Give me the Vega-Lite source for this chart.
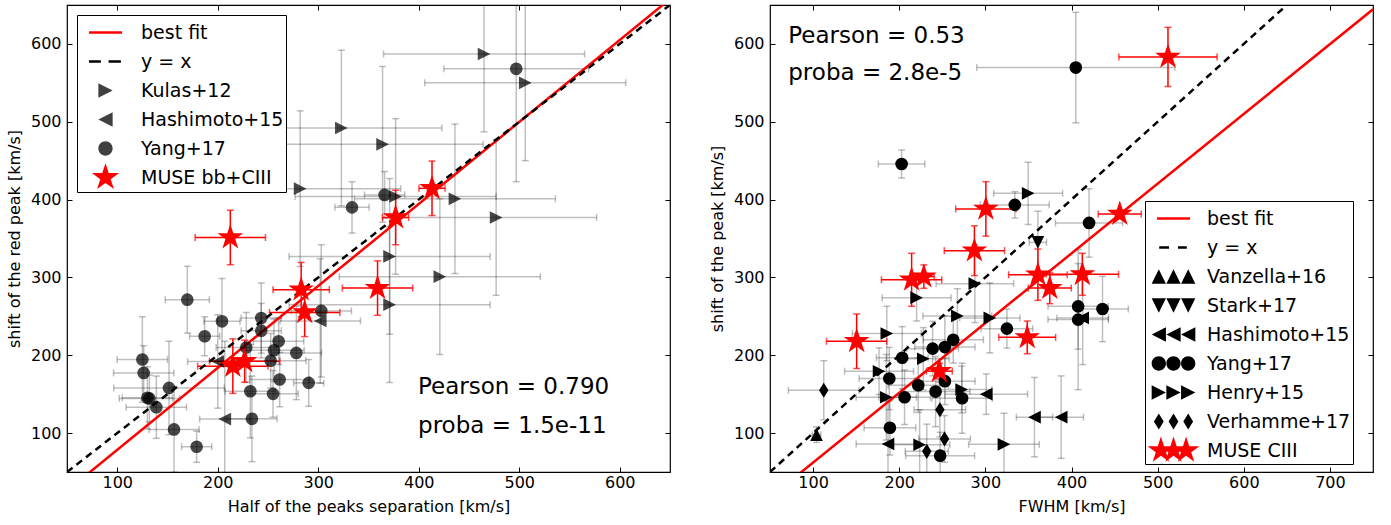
{
  "$schema": "https://vega.github.io/schema/vega-lite/v6.json",
  "background": "white",
  "padding": {"left": 5, "top": 3, "right": 5, "bottom": 5},
  "spacing": 36,
  "resolve": {"scale": {"shape": "independent", "color": "independent", "stroke": "independent"}, "legend": {"shape": "independent", "color": "independent", "stroke": "independent"}},
  "config": {
    "font": "DejaVu Sans",
    "view": {"stroke": "black", "strokeWidth": 1.2},
    "axis": {"domain": false, "grid": false, "ticks": true, "tickSize": -5, "tickColor": "black", "tickWidth": 1,
      "labelFont": "DejaVu Sans", "labelFontSize": 16, "labelColor": "black",
      "titleFont": "DejaVu Sans", "titleFontSize": 16, "titleFontWeight": "normal", "titleColor": "black"},
    "axisX": {"labelPadding": 7, "titlePadding": 8},
    "axisY": {"labelPadding": 11, "titlePadding": 8},
    "legend": {"labelFont": "DejaVu Sans", "labelFontSize": 19, "labelColor": "black", "symbolSize": 784,
      "symbolOffset": 11, "padding": 2, "labelOffset": 20, "rowPadding": -1.5, "strokeColor": "black",
      "fillColor": "white", "strokeWidth": 1, "cornerRadius": 0, "orient": "none", "symbolStrokeWidth": 2.5, "symbolOpacity": 1}
  },
  "datasets": {
    "left": [
      {"s": "Kulas+12", "x": 465, "y": 587, "xe": 100, "ye": 100},
      {"s": "Kulas+12", "x": 506, "y": 550, "xe": 100, "ye": 100},
      {"s": "Kulas+12", "x": 323, "y": 492, "xe": 100, "ye": 100},
      {"s": "Kulas+12", "x": 364, "y": 471, "xe": 100, "ye": 100},
      {"s": "Kulas+12", "x": 282, "y": 414, "xe": 100, "ye": 100},
      {"s": "Kulas+12", "x": 377, "y": 404, "xe": 100, "ye": 100},
      {"s": "Kulas+12", "x": 436, "y": 401, "xe": 100, "ye": 96},
      {"s": "Kulas+12", "x": 477, "y": 377, "xe": 100, "ye": 100},
      {"s": "Kulas+12", "x": 371, "y": 327, "xe": 100, "ye": 100},
      {"s": "Kulas+12", "x": 421, "y": 301, "xe": 100, "ye": 100},
      {"s": "Kulas+12", "x": 371, "y": 265, "xe": 100, "ye": 100},
      {"s": "Hashimoto+15", "x": 207, "y": 118, "xe": 25, "ye": 100},
      {"s": "Hashimoto+15", "x": 200, "y": 192, "xe": 30, "ye": 60},
      {"s": "Hashimoto+15", "x": 302, "y": 244, "xe": 40, "ye": 80},
      {"s": "Yang+17", "x": 169.7, "y": 271.4, "xe": 22, "ye": 43},
      {"s": "Yang+17", "x": 204.2, "y": 243.6, "xe": 18, "ye": 55},
      {"s": "Yang+17", "x": 187, "y": 224.4, "xe": 15, "ye": 25},
      {"s": "Yang+17", "x": 243.3, "y": 247.8, "xe": 20, "ye": 45},
      {"s": "Yang+17", "x": 243.3, "y": 231.6, "xe": 20, "ye": 35},
      {"s": "Yang+17", "x": 228.4, "y": 210, "xe": 30, "ye": 45},
      {"s": "Yang+17", "x": 260.6, "y": 218, "xe": 25, "ye": 30},
      {"s": "Yang+17", "x": 256, "y": 206.4, "xe": 30, "ye": 40},
      {"s": "Yang+17", "x": 252.7, "y": 193, "xe": 35, "ye": 35},
      {"s": "Yang+17", "x": 278.2, "y": 203, "xe": 25, "ye": 60},
      {"s": "Yang+17", "x": 261.6, "y": 168.8, "xe": 30, "ye": 35},
      {"s": "Yang+17", "x": 290.5, "y": 164.5, "xe": 15, "ye": 30},
      {"s": "Yang+17", "x": 232.4, "y": 153.8, "xe": 25, "ye": 60},
      {"s": "Yang+17", "x": 255, "y": 150.4, "xe": 25, "ye": 30},
      {"s": "Yang+17", "x": 234, "y": 118.3, "xe": 25, "ye": 55},
      {"s": "Yang+17", "x": 125, "y": 194.5, "xe": 25, "ye": 55},
      {"s": "Yang+17", "x": 126.3, "y": 177.3, "xe": 30, "ye": 35},
      {"s": "Yang+17", "x": 151.5, "y": 158, "xe": 55, "ye": 60},
      {"s": "Yang+17", "x": 130, "y": 145.3, "xe": 25, "ye": 40},
      {"s": "Yang+17", "x": 132, "y": 144.5, "xe": 30, "ye": 30},
      {"s": "Yang+17", "x": 138.9, "y": 133.3, "xe": 30, "ye": 40},
      {"s": "Yang+17", "x": 156.5, "y": 104.7, "xe": 25, "ye": 55},
      {"s": "Yang+17", "x": 179, "y": 82.5, "xe": 15, "ye": 20},
      {"s": "Yang+17", "x": 303, "y": 257, "xe": 30, "ye": 85},
      {"s": "Yang+17", "x": 333.6, "y": 390, "xe": 17, "ye": 33},
      {"s": "Yang+17", "x": 366, "y": 406, "xe": 20, "ye": 30},
      {"s": "Yang+17", "x": 497, "y": 568, "xe": 72, "ye": 145},
      {"s": "MUSE bb+CIII", "x": 212.5, "y": 351.3, "xe": 35, "ye": 35},
      {"s": "MUSE bb+CIII", "x": 283, "y": 284.3, "xe": 28, "ye": 35},
      {"s": "MUSE bb+CIII", "x": 286.5, "y": 255, "xe": 35, "ye": 31},
      {"s": "MUSE bb+CIII", "x": 359, "y": 286.3, "xe": 35, "ye": 35},
      {"s": "MUSE bb+CIII", "x": 377, "y": 377, "xe": 13, "ye": 35},
      {"s": "MUSE bb+CIII", "x": 413.2, "y": 414.5, "xe": 13, "ye": 35},
      {"s": "MUSE bb+CIII", "x": 215, "y": 186, "xe": 35, "ye": 35},
      {"s": "MUSE bb+CIII", "x": 226.8, "y": 192.3, "xe": 35, "ye": 27}
    ],
    "leftLines": [
      {"k": "fit", "x": 50, "y": 25.85},
      {"k": "fit", "x": 650, "y": 657.65},
      {"k": "yx", "x": 50, "y": 50},
      {"k": "yx", "x": 650, "y": 650}
    ],
    "leftText": [
      {"x": 399.3, "y": 150, "t": "Pearson = 0.790"},
      {"x": 399.3, "y": 100, "t": "proba = 1.5e-11"}
    ],
    "right": [
      {"s": "Vanzella+16", "x": 104, "y": 98, "xe": 5, "ye": 10},
      {"s": "Stark+17", "x": 361, "y": 345, "xe": 10, "ye": 40},
      {"s": "Hashimoto+15", "x": 413, "y": 248, "xe": 30, "ye": 60},
      {"s": "Hashimoto+15", "x": 301, "y": 150, "xe": 48, "ye": 26},
      {"s": "Hashimoto+15", "x": 357, "y": 120.5, "xe": 21, "ye": 51},
      {"s": "Hashimoto+15", "x": 388, "y": 120.5, "xe": 26, "ye": 53},
      {"s": "Hashimoto+15", "x": 187, "y": 86, "xe": 37, "ye": 55},
      {"s": "Yang+17", "x": 405, "y": 569.6, "xe": 115, "ye": 71},
      {"s": "Yang+17", "x": 202.8, "y": 445.7, "xe": 27, "ye": 18},
      {"s": "Yang+17", "x": 334.2, "y": 393.2, "xe": 40, "ye": 17},
      {"s": "Yang+17", "x": 420.4, "y": 370, "xe": 39, "ye": 44},
      {"s": "Yang+17", "x": 407.7, "y": 262.8, "xe": 35, "ye": 55},
      {"s": "Yang+17", "x": 436, "y": 259.4, "xe": 30, "ye": 42},
      {"s": "Yang+17", "x": 407.7, "y": 245.8, "xe": 35, "ye": 90},
      {"s": "Yang+17", "x": 325, "y": 234.2, "xe": 30, "ye": 25},
      {"s": "Yang+17", "x": 262.7, "y": 219.9, "xe": 35, "ye": 30},
      {"s": "Yang+17", "x": 253, "y": 210.5, "xe": 35, "ye": 40},
      {"s": "Yang+17", "x": 238.8, "y": 208.5, "xe": 30, "ye": 35},
      {"s": "Yang+17", "x": 203.5, "y": 196.8, "xe": 30, "ye": 40},
      {"s": "Yang+17", "x": 188.5, "y": 170.1, "xe": 35, "ye": 40},
      {"s": "Yang+17", "x": 222.1, "y": 161.5, "xe": 35, "ye": 35},
      {"s": "Yang+17", "x": 242.2, "y": 153.3, "xe": 40, "ye": 45},
      {"s": "Yang+17", "x": 253, "y": 166.7, "xe": 35, "ye": 30},
      {"s": "Yang+17", "x": 206.2, "y": 146, "xe": 30, "ye": 35},
      {"s": "Yang+17", "x": 273, "y": 144.8, "xe": 35, "ye": 45},
      {"s": "Yang+17", "x": 189.2, "y": 106.8, "xe": 30, "ye": 35},
      {"s": "Yang+17", "x": 247.5, "y": 71, "xe": 40, "ye": 30},
      {"s": "Henry+15", "x": 349.7, "y": 408, "xe": 40, "ye": 40},
      {"s": "Henry+15", "x": 287.8, "y": 292, "xe": 45, "ye": 50},
      {"s": "Henry+15", "x": 220.2, "y": 274, "xe": 40, "ye": 30},
      {"s": "Henry+15", "x": 267.5, "y": 250.5, "xe": 40, "ye": 35},
      {"s": "Henry+15", "x": 305.2, "y": 248, "xe": 35, "ye": 45},
      {"s": "Henry+15", "x": 185.6, "y": 228, "xe": 40, "ye": 35},
      {"s": "Henry+15", "x": 228, "y": 195.5, "xe": 30, "ye": 40},
      {"s": "Henry+15", "x": 176.6, "y": 179.5, "xe": 40, "ye": 30},
      {"s": "Henry+15", "x": 185, "y": 146, "xe": 35, "ye": 55},
      {"s": "Henry+15", "x": 272.5, "y": 156, "xe": 35, "ye": 30},
      {"s": "Henry+15", "x": 223.7, "y": 85, "xe": 35, "ye": 45},
      {"s": "Henry+15", "x": 321.6, "y": 85.5, "xe": 41, "ye": 40},
      {"s": "Verhamme+17", "x": 112.4, "y": 155, "xe": 41, "ye": 38},
      {"s": "Verhamme+17", "x": 247.2, "y": 130, "xe": 30, "ye": 35},
      {"s": "Verhamme+17", "x": 252.6, "y": 92.5, "xe": 30, "ye": 30},
      {"s": "Verhamme+17", "x": 232, "y": 76.5, "xe": 25, "ye": 35},
      {"s": "MUSE CIII", "x": 512, "y": 583.3, "xe": 57, "ye": 38},
      {"s": "MUSE CIII", "x": 300.6, "y": 388, "xe": 35, "ye": 35},
      {"s": "MUSE CIII", "x": 456, "y": 381.5, "xe": 25, "ye": 5},
      {"s": "MUSE CIII", "x": 287.3, "y": 334.4, "xe": 35, "ye": 32},
      {"s": "MUSE CIII", "x": 214.4, "y": 297, "xe": 35, "ye": 34},
      {"s": "MUSE CIII", "x": 228.6, "y": 301, "xe": 12, "ye": 15},
      {"s": "MUSE CIII", "x": 361, "y": 303.5, "xe": 34, "ye": 33},
      {"s": "MUSE CIII", "x": 374.8, "y": 286.3, "xe": 25, "ye": 20},
      {"s": "MUSE CIII", "x": 412.6, "y": 304, "xe": 42, "ye": 27},
      {"s": "MUSE CIII", "x": 150.6, "y": 218, "xe": 35, "ye": 35},
      {"s": "MUSE CIII", "x": 348.6, "y": 223, "xe": 33, "ye": 21},
      {"s": "MUSE CIII", "x": 246.6, "y": 179.5, "xe": 15, "ye": 10}
    ],
    "rightLines": [
      {"k": "fit", "x": 50, "y": 17.3},
      {"k": "fit", "x": 750, "y": 644.5},
      {"k": "yx", "x": 50, "y": 50},
      {"k": "yx", "x": 750, "y": 750}
    ],
    "rightText": [
      {"x": 71.2, "y": 601.7, "t": "Pearson = 0.53"},
      {"x": 71.2, "y": 553.5, "t": "proba = 2.8e-5"}
    ]
  },
  "hconcat": [
    {
      "width": 603, "height": 467,
      "resolve": {"axis": {"x": "independent", "y": "independent"}, "scale": {"shape": "independent", "color": "independent", "stroke": "independent"}, "legend": {"shape": "independent", "color": "independent", "stroke": "independent"}},
      "layer": [
        {"data": {"name": "left"}, "transform": [{"filter": "datum.s !== 'MUSE bb+CIII'"}],
          "mark": {"type": "errorbar", "ticks": {"size": 7}, "thickness": 1.5, "color": "#000000", "opacity": 0.25, "clip": true},
          "encoding": {"x": {"field": "x", "type": "quantitative", "axis": null}, "xError": {"field": "xe"}, "y": {"field": "y", "type": "quantitative", "axis": null}}},
        {"data": {"name": "left"}, "transform": [{"filter": "datum.s !== 'MUSE bb+CIII'"}],
          "mark": {"type": "errorbar", "ticks": {"size": 7}, "thickness": 1.5, "color": "#000000", "opacity": 0.25, "clip": true},
          "encoding": {"x": {"field": "x", "type": "quantitative", "axis": null}, "y": {"field": "y", "type": "quantitative", "axis": null}, "yError": {"field": "ye"}}},
        {"data": {"name": "left"}, "transform": [{"filter": "datum.s === 'MUSE bb+CIII'"}],
          "mark": {"type": "errorbar", "ticks": {"size": 7}, "thickness": 1.5, "color": "#ff0000", "clip": true},
          "encoding": {"x": {"field": "x", "type": "quantitative", "axis": null}, "xError": {"field": "xe"}, "y": {"field": "y", "type": "quantitative", "axis": null}}},
        {"data": {"name": "left"}, "transform": [{"filter": "datum.s === 'MUSE bb+CIII'"}],
          "mark": {"type": "errorbar", "ticks": {"size": 7}, "thickness": 1.5, "color": "#ff0000", "clip": true},
          "encoding": {"x": {"field": "x", "type": "quantitative", "axis": null}, "y": {"field": "y", "type": "quantitative", "axis": null}, "yError": {"field": "ye"}}},
        {"data": {"name": "leftLines"}, "transform": [{"filter": "datum.k === 'fit'"}],
          "mark": {"type": "line", "color": "#ff0000", "strokeWidth": 2.5, "clip": true},
          "encoding": {"x": {"field": "x", "type": "quantitative", "axis": null}, "y": {"field": "y", "type": "quantitative", "axis": null}}},
        {"data": {"name": "leftLines"}, "transform": [{"filter": "datum.k === 'yx'"}],
          "mark": {"type": "line", "color": "#000000", "strokeWidth": 2.5, "strokeDash": [7, 5], "clip": true},
          "encoding": {
            "x": {"field": "x", "type": "quantitative", "axis": {"orient": "top", "labels": false, "title": null, "values": [100, 200, 300, 400, 500, 600]}},
            "y": {"field": "y", "type": "quantitative", "axis": {"orient": "right", "labels": false, "title": null, "values": [100, 200, 300, 400, 500, 600]}}}},
        {"data": {"name": "left"},
          "mark": {"type": "point", "filled": true},
          "encoding": {
            "x": {"field": "x", "type": "quantitative", "scale": {"domain": [50, 650], "nice": false, "zero": false},
              "axis": {"values": [100, 200, 300, 400, 500, 600], "title": "Half of the peaks separation [km/s]"}},
            "y": {"field": "y", "type": "quantitative", "scale": {"domain": [50, 650], "nice": false, "zero": false},
              "axis": {"values": [100, 200, 300, 400, 500, 600], "title": "shift of the red peak [km/s]"}},
            "shape": {"field": "s", "type": "nominal", "legend": null,
              "scale": {"domain": ["Kulas+12", "Hashimoto+15", "Yang+17", "MUSE bb+CIII"],
                "range": ["M-1,-1L1,0L-1,1Z", "M1,-1L-1,0L1,1Z", "circle", "M0,-1L0.2245,-0.309L0.951,-0.309L0.363,0.118L0.588,0.809L0,0.382L-0.588,0.809L-0.363,0.118L-0.951,-0.309L-0.2245,-0.309Z"]}},
            "color": {"condition": {"test": "datum.s === 'MUSE bb+CIII'", "value": "#ff0000"}, "value": "#000000"},
            "opacity": {"condition": {"test": "datum.s === 'MUSE bb+CIII'", "value": 1}, "value": 0.72},
            "size": {"condition": {"test": "datum.s === 'MUSE bb+CIII'", "value": 730}, "value": 160}}},
        {"data": {"name": "left"}, "transform": [{"filter": "false"}],
          "mark": {"type": "point", "filled": true, "size": 784, "strokeWidth": 2.5},
          "encoding": {
            "x": {"field": "x", "type": "quantitative", "axis": null},
            "y": {"field": "y", "type": "quantitative", "axis": null},
            "shape": {"field": "s", "type": "nominal",
              "scale": {"domain": ["best fit", "y = x", "Kulas+12", "Hashimoto+15", "Yang+17", "MUSE bb+CIII"],
                "range": ["M-1.18,0L1.18,0M0,-0.54L0,-0.54M0,0.54L0,0.54", "M-1.18,0L-0.33,0M0.22,0L1.1,0M0,-0.54L0,-0.54M0,0.54L0,0.54", "M-0.51,-0.51L0.51,0L-0.51,0.51ZM0,-0.9L0,-0.9M0,0.9L0,0.9", "M0.51,-0.51L-0.51,0L0.51,0.51ZM0,-0.9L0,-0.9M0,0.9L0,0.9", "M-0.51,0A0.51,0.51,0,1,0,0.51,0A0.51,0.51,0,1,0,-0.51,0ZM0,-0.9L0,-0.9M0,0.9L0,0.9", "M0,-1.02L0.229,-0.315L0.97,-0.315L0.37,0.12L0.6,0.825L0,0.39L-0.6,0.825L-0.37,0.12L-0.97,-0.315L-0.229,-0.315Z"]},
              "legend": {"title": null, "legendX": 10, "legendY": 10, "labelExpr": "datum.label + '\u00a0\u00a0'"}},
            "color": {"field": "s", "type": "nominal", "legend": {"title": null, "legendX": 10, "legendY": 10, "labelExpr": "datum.label + '\u00a0\u00a0'"},
              "scale": {"domain": ["best fit", "y = x", "Kulas+12", "Hashimoto+15", "Yang+17", "MUSE bb+CIII"],
                "range": ["transparent", "transparent", "#404040", "#404040", "#404040", "#ff0000"]}},
            "stroke": {"field": "s", "type": "nominal", "legend": {"title": null, "legendX": 10, "legendY": 10, "labelExpr": "datum.label + '\u00a0\u00a0'"},
              "scale": {"domain": ["best fit", "y = x", "Kulas+12", "Hashimoto+15", "Yang+17", "MUSE bb+CIII"],
                "range": ["#ff0000", "#000000", null, null, null, null]}}}},
        {"data": {"name": "leftText"},
          "mark": {"type": "text", "align": "left", "baseline": "alphabetic", "fontSize": 23, "font": "DejaVu Sans", "color": "black"},
          "encoding": {"x": {"field": "x", "type": "quantitative", "axis": null}, "y": {"field": "y", "type": "quantitative", "axis": null}, "text": {"field": "t"}}}
      ]
    },
    {
      "width": 603, "height": 467,
      "resolve": {"axis": {"x": "independent", "y": "independent"}, "scale": {"shape": "independent", "color": "independent", "stroke": "independent"}, "legend": {"shape": "independent", "color": "independent", "stroke": "independent"}},
      "layer": [
        {"data": {"name": "right"}, "transform": [{"filter": "datum.s !== 'MUSE CIII'"}],
          "mark": {"type": "errorbar", "ticks": {"size": 7}, "thickness": 1.5, "color": "#000000", "opacity": 0.25, "clip": true},
          "encoding": {"x": {"field": "x", "type": "quantitative", "axis": null}, "xError": {"field": "xe"}, "y": {"field": "y", "type": "quantitative", "axis": null}}},
        {"data": {"name": "right"}, "transform": [{"filter": "datum.s !== 'MUSE CIII'"}],
          "mark": {"type": "errorbar", "ticks": {"size": 7}, "thickness": 1.5, "color": "#000000", "opacity": 0.25, "clip": true},
          "encoding": {"x": {"field": "x", "type": "quantitative", "axis": null}, "y": {"field": "y", "type": "quantitative", "axis": null}, "yError": {"field": "ye"}}},
        {"data": {"name": "right"}, "transform": [{"filter": "datum.s === 'MUSE CIII'"}],
          "mark": {"type": "errorbar", "ticks": {"size": 7}, "thickness": 1.5, "color": "#ff0000", "clip": true},
          "encoding": {"x": {"field": "x", "type": "quantitative", "axis": null}, "xError": {"field": "xe"}, "y": {"field": "y", "type": "quantitative", "axis": null}}},
        {"data": {"name": "right"}, "transform": [{"filter": "datum.s === 'MUSE CIII'"}],
          "mark": {"type": "errorbar", "ticks": {"size": 7}, "thickness": 1.5, "color": "#ff0000", "clip": true},
          "encoding": {"x": {"field": "x", "type": "quantitative", "axis": null}, "y": {"field": "y", "type": "quantitative", "axis": null}, "yError": {"field": "ye"}}},
        {"data": {"name": "rightLines"}, "transform": [{"filter": "datum.k === 'fit'"}],
          "mark": {"type": "line", "color": "#ff0000", "strokeWidth": 2.5, "clip": true},
          "encoding": {"x": {"field": "x", "type": "quantitative", "axis": null}, "y": {"field": "y", "type": "quantitative", "axis": null}}},
        {"data": {"name": "rightLines"}, "transform": [{"filter": "datum.k === 'yx'"}],
          "mark": {"type": "line", "color": "#000000", "strokeWidth": 2.5, "strokeDash": [7, 5], "clip": true},
          "encoding": {
            "x": {"field": "x", "type": "quantitative", "axis": {"orient": "top", "labels": false, "title": null, "values": [100, 200, 300, 400, 500, 600, 700]}},
            "y": {"field": "y", "type": "quantitative", "axis": {"orient": "right", "labels": false, "title": null, "values": [100, 200, 300, 400, 500, 600]}}}},
        {"data": {"name": "right"},
          "mark": {"type": "point", "filled": true, "opacity": 1},
          "encoding": {
            "x": {"field": "x", "type": "quantitative", "scale": {"domain": [50, 750], "nice": false, "zero": false},
              "axis": {"values": [100, 200, 300, 400, 500, 600, 700], "title": "FWHM [km/s]"}},
            "y": {"field": "y", "type": "quantitative", "scale": {"domain": [50, 650], "nice": false, "zero": false},
              "axis": {"values": [100, 200, 300, 400, 500, 600], "title": "shift of the peak [km/s]"}},
            "shape": {"field": "s", "type": "nominal", "legend": null,
              "scale": {"domain": ["Vanzella+16", "Stark+17", "Hashimoto+15", "Yang+17", "Henry+15", "Verhamme+17", "MUSE CIII"],
                "range": ["M0,-1L1,1L-1,1Z", "M-1,-1L1,-1L0,1Z", "M1,-1L-1,0L1,1Z", "circle", "M-1,-1L1,0L-1,1Z", "M0,-1.2L0.75,0L0,1.2L-0.75,0Z", "M0,-1L0.2245,-0.309L0.951,-0.309L0.363,0.118L0.588,0.809L0,0.382L-0.588,0.809L-0.363,0.118L-0.951,-0.309L-0.2245,-0.309Z"]}},
            "color": {"condition": {"test": "datum.s === 'MUSE CIII'", "value": "#ff0000"}, "value": "#000000"},
            "size": {"condition": {"test": "datum.s === 'MUSE CIII'", "value": 730}, "value": 160}}},
        {"data": {"name": "right"}, "transform": [{"filter": "false"}],
          "mark": {"type": "point", "filled": true, "size": 784, "strokeWidth": 2.5},
          "encoding": {
            "x": {"field": "x", "type": "quantitative", "axis": null},
            "y": {"field": "y", "type": "quantitative", "axis": null},
            "shape": {"field": "s", "type": "nominal",
              "scale": {"domain": ["best fit", "y = x", "Vanzella+16", "Stark+17", "Hashimoto+15", "Yang+17", "Henry+15", "Verhamme+17", "MUSE CIII"],
                "range": [
                  "M-1.18,0L1.18,0M0,-0.54L0,-0.54M0,0.54L0,0.54",
                  "M-1.02,0L-0.32,0M0.32,0L0.95,0M0,-0.54L0,-0.54M0,0.54L0,0.54",
                  "M-1.05,-0.51L-0.54,0.51L-1.56,0.51ZM0,-0.51L0.51,0.51L-0.51,0.51ZM1.05,-0.51L1.56,0.51L0.54,0.51ZM0,-0.9L0,-0.9M0,0.9L0,0.9",
                  "M-1.56,-0.51L-0.54,-0.51L-1.05,0.51ZM-0.51,-0.51L0.51,-0.51L0,0.51ZM0.54,-0.51L1.56,-0.51L1.05,0.51ZM0,-0.9L0,-0.9M0,0.9L0,0.9",
                  "M-0.54,-0.51L-0.54,0.51L-1.56,0ZM0.51,-0.51L0.51,0.51L-0.51,0ZM1.56,-0.51L1.56,0.51L0.54,0ZM0,-0.9L0,-0.9M0,0.9L0,0.9",
                  "M-1.56,0A0.51,0.51,0,1,0,-0.54,0A0.51,0.51,0,1,0,-1.56,0ZM-0.51,0A0.51,0.51,0,1,0,0.51,0A0.51,0.51,0,1,0,-0.51,0ZM0.54,0A0.51,0.51,0,1,0,1.56,0A0.51,0.51,0,1,0,0.54,0ZM0,-0.9L0,-0.9M0,0.9L0,0.9",
                  "M-1.56,-0.51L-1.56,0.51L-0.54,0ZM-0.51,-0.51L-0.51,0.51L0.51,0ZM0.54,-0.51L0.54,0.51L1.56,0ZM0,-0.9L0,-0.9M0,0.9L0,0.9",
                  "M-1.05,-0.58L-0.7,0L-1.05,0.58L-1.4,0ZM0,-0.58L0.35,0L0,0.58L-0.35,0ZM1.05,-0.58L1.4,0L1.05,0.58L0.7,0ZM0,-0.9L0,-0.9M0,0.9L0,0.9",
                  "M-0.9,-1L-0.6755,-0.309L0.051,-0.309L-0.537,0.118L-0.312,0.809L-0.9,0.382L-1.488,0.809L-1.263,0.118L-1.851,-0.309L-1.1245,-0.309ZM0,-1L0.2245,-0.309L0.951,-0.309L0.363,0.118L0.588,0.809L0,0.382L-0.588,0.809L-0.363,0.118L-0.951,-0.309L-0.2245,-0.309ZM0.9,-1L1.1245,-0.309L1.851,-0.309L1.263,0.118L1.488,0.809L0.9,0.382L0.312,0.809L0.537,0.118L-0.051,-0.309L0.6755,-0.309Z"]},
              "legend": {"title": null, "legendX": 375, "legendY": 196, "labelOffset": 18, "rowPadding": -1, "labelExpr": "datum.label + '\u00a0\u00a0\u2009\u2009'"}},
            "color": {"field": "s", "type": "nominal", "legend": {"title": null, "legendX": 375, "legendY": 196, "labelOffset": 18, "rowPadding": -1, "labelExpr": "datum.label + '\u00a0\u00a0\u2009\u2009'"},
              "scale": {"domain": ["best fit", "y = x", "Vanzella+16", "Stark+17", "Hashimoto+15", "Yang+17", "Henry+15", "Verhamme+17", "MUSE CIII"],
                "range": ["transparent", "transparent", "#000000", "#000000", "#000000", "#000000", "#000000", "#000000", "#ff0000"]}},
            "stroke": {"field": "s", "type": "nominal", "legend": {"title": null, "legendX": 375, "legendY": 196, "labelOffset": 18, "rowPadding": -1, "labelExpr": "datum.label + '\u00a0\u00a0\u2009\u2009'"},
              "scale": {"domain": ["best fit", "y = x", "Vanzella+16", "Stark+17", "Hashimoto+15", "Yang+17", "Henry+15", "Verhamme+17", "MUSE CIII"],
                "range": ["#ff0000", "#000000", null, null, null, null, null, null, null]}}}},
        {"data": {"name": "rightText"},
          "mark": {"type": "text", "align": "left", "baseline": "alphabetic", "fontSize": 23, "font": "DejaVu Sans", "color": "black"},
          "encoding": {"x": {"field": "x", "type": "quantitative", "axis": null}, "y": {"field": "y", "type": "quantitative", "axis": null}, "text": {"field": "t"}}}
      ]
    }
  ]
}
